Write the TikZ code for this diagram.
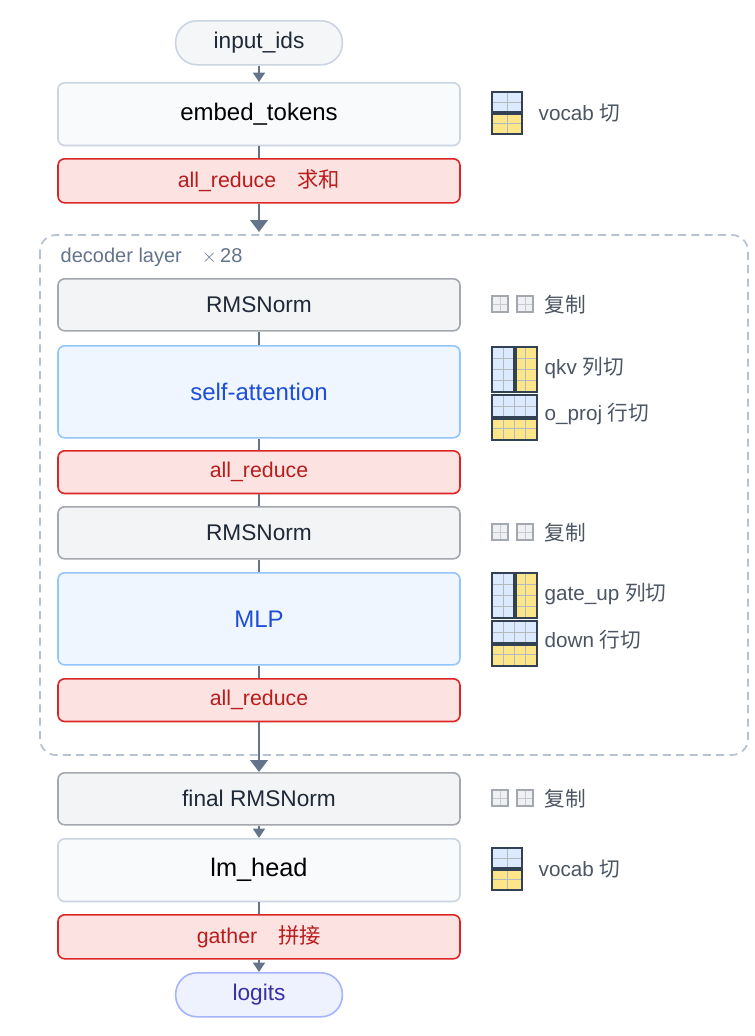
\documentclass[tikz,border=0pt]{standalone}
\usepackage{fontspec}
\setmainfont{Liberation Sans}
\newfontfamily\cjk{Noto Sans CJK SC}
\usetikzlibrary{arrows.meta,positioning}
\definecolor{redfill}{HTML}{FDE2E2}
\definecolor{redline}{HTML}{DC2626}
\definecolor{redtext}{HTML}{B91C1C}
\definecolor{greyfill}{HTML}{F3F4F6}
\definecolor{greyline}{HTML}{A3A7AE}
\definecolor{palefill}{HTML}{F8FAFC}
\definecolor{paleline}{HTML}{CBD5E1}
\definecolor{bluefill}{HTML}{EFF6FF}
\definecolor{blueline}{HTML}{93C5FD}
\definecolor{bluetext}{HTML}{1D4ED8}
\definecolor{pillfill}{HTML}{EEF2FF}
\definecolor{pillline}{HTML}{A5B4FC}
\definecolor{pilltext}{HTML}{3730A3}
\definecolor{conn}{HTML}{64748B}
\definecolor{dark}{HTML}{1F2937}
\definecolor{note}{HTML}{4B5563}
\definecolor{cellblue}{HTML}{DBEAFE}
\definecolor{cellyellow}{HTML}{FDE68A}
\definecolor{frame}{HTML}{334155}
\definecolor{cellgrey}{HTML}{EEF0F4}

\tikzset{
  box/.style={rectangle, rounded corners=5pt, line width=1.2pt, minimum width=301.5pt, anchor=north, font=\fontsize{17}{17}\selectfont},
  plain/.style={box, fill=palefill, draw=paleline, text=black},
  norm/.style={box, fill=greyfill, draw=greyline, text=dark},
  attn/.style={box, fill=bluefill, draw=blueline, text=bluetext, font=\fontsize{18}{18}\selectfont},
  comm/.style={box, fill=redfill, draw=redline, text=redtext, font=\fontsize{16}{16}\selectfont},
  pill/.style={rectangle, rounded corners=16pt, line width=1.2pt, minimum width=125pt, minimum height=33pt, anchor=north, font=\fontsize{17}{17}\selectfont},
  link/.style={draw=conn, line width=1pt},
  arr/.style={link, -{Triangle[length=7pt,width=9pt]}},
  bigarr/.style={draw=conn, line width=2.2pt, -{Triangle[length=9pt,width=13pt]}},
  lbl/.style={anchor=west, text=note, font=\fontsize{15.5}{15.5}\selectfont},
}
% sharding icons, placed by their top left corner
\newcommand\repicon[2]{%
  \foreach \d in {0,25} {
    \fill[cellgrey] ({#1+\d},#2) rectangle ++(16,16);
    \draw[greyline!60, line width=0.6pt] ({#1+\d+8},#2) -- ++(0,16) ({#1+\d},{#2+8}) -- ++(16,0);
    \draw[greyline, line width=1.3pt] ({#1+\d},#2) rectangle ++(16,16);
  }
}
\newcommand\colicon[2]{%
  \fill[cellblue] (#1,#2) rectangle ++(22.5,45);
  \fill[cellyellow] ({#1+22.5},#2) rectangle ++(22.5,45);
  \foreach \k in {1,2,3} {\draw[greyline!80, line width=0.6pt] (#1,{#2+\k*11.25}) -- ++(45,0);}
  \draw[greyline!80, line width=0.6pt] ({#1+11.25},#2) -- ++(0,45) ({#1+33.75},#2) -- ++(0,45);
  \draw[frame, line width=3pt] ({#1+22.5},#2) -- ++(0,45);
  \draw[frame, line width=1.5pt] (#1,#2) rectangle ++(45,45);
}
\newcommand\rowicon[2]{%
  \fill[cellblue] (#1,#2) rectangle ++(45,22.5);
  \fill[cellyellow] (#1,{#2+22.5}) rectangle ++(45,22.5);
  \foreach \k in {1,2,3} {\draw[greyline!80, line width=0.6pt] ({#1+\k*11.25},#2) -- ++(0,45);}
  \draw[greyline!80, line width=0.6pt] (#1,{#2+11.25}) -- ++(45,0) (#1,{#2+33.75}) -- ++(45,0);
  \draw[frame, line width=3pt] (#1,{#2+22.5}) -- ++(45,0);
  \draw[frame, line width=1.5pt] (#1,#2) rectangle ++(45,45);
}
\newcommand\vocabicon[2]{%
  \fill[cellblue] (#1,#2) rectangle ++(30,21);
  \fill[cellyellow] (#1,{#2+21}) rectangle ++(30,21);
  \draw[greyline!80, line width=0.6pt] ({#1+15},#2) -- ++(0,42) (#1,{#2+10.5}) -- ++(30,0) (#1,{#2+31.5}) -- ++(30,0);
  \draw[frame, line width=3pt] (#1,{#2+21}) -- ++(30,0);
  \draw[frame, line width=1.5pt] (#1,#2) rectangle ++(30,42);
}

\begin{document}
\begin{tikzpicture}[x=0.75pt, y=-0.75pt]
  \useasboundingbox[fill=white] (0,0) rectangle (754,1036);

  % decoder frame
  \draw[paleline!80!conn, line width=1.3pt, dash pattern=on 6pt off 4pt, rounded corners=12pt]
    (40,235) rectangle (748,755);
  \node[anchor=west, text=conn, font=\fontsize{15}{15}\selectfont] (layer) at (56,257) {decoder layer\quad$\times$\,28};

  % boxes
  \node[pill, fill=greyfill!60!palefill, draw=paleline, text=dark] (input) at (259,20) {input\_ids};
  \node[plain, minimum height=47pt, font=\fontsize{18}{18}\selectfont] (embed) at (259,82) {embed\_tokens};
  \node[comm, minimum height=33pt] (ar0) at (259,158) {all\_reduce\quad{\cjk 求和}};
  \node[norm, minimum height=39pt] (norm1) at (259,278) {RMSNorm};
  \node[attn, minimum height=69pt] (attn) at (259,345) {self-attention};
  \node[comm, minimum height=32pt] (ar1) at (259,450) {all\_reduce};
  \node[norm, minimum height=39pt] (norm2) at (259,506) {RMSNorm};
  \node[attn, minimum height=69pt] (mlp) at (259,572) {MLP};
  \node[comm, minimum height=32pt] (ar2) at (259,678) {all\_reduce};
  \node[norm, minimum height=39pt] (norm3) at (259,772) {final RMSNorm};
  \node[plain, minimum height=47pt, font=\fontsize{19}{19}\selectfont] (head) at (259,838) {lm\_head};
  \node[comm, minimum height=33pt] (gather) at (259,914) {gather\quad{\cjk 拼接}};
  \node[pill, fill=pillfill, draw=pillline, text=pilltext] (logits) at (259,972) {logits};

  % connectors
  \draw[arr] (input) -- (embed);
  \draw[link] (embed) -- (ar0);
  \draw[bigarr] (ar0) -- (259,232);
  \draw[link] (norm1) -- (attn);
  \draw[link] (attn) -- (ar1);
  \draw[link] (ar1) -- (norm2);
  \draw[link] (norm2) -- (mlp);
  \draw[link] (mlp) -- (ar2);
  \draw[bigarr] (ar2) -- (norm3);
  \draw[arr] (norm3) -- (head);
  \draw[link] (head) -- (gather);
  \draw[arr] (gather) -- (logits);

  % sharding notes
  \vocabicon{492}{92}
  \node[lbl] (v1) at (534,113) {vocab {\cjk 切}};
  \repicon{492}{296}
  \node[lbl] (r1) at (540,305) {\cjk 复制};
  \colicon{492}{347}
  \node[lbl] (qkv) at (540,368) {qkv {\cjk 列切}};
  \rowicon{492}{395}
  \node[lbl] (oproj) at (540,414) {o\_proj {\cjk 行切}};
  \repicon{492}{524}
  \node[lbl] (r2) at (540,533) {\cjk 复制};
  \colicon{492}{573}
  \node[lbl] (gate) at (540,594) {gate\_up {\cjk 列切}};
  \rowicon{492}{621}
  \node[lbl] (down) at (540,640) {down {\cjk 行切}};
  \repicon{492}{790}
  \node[lbl] (r3) at (540,799) {\cjk 复制};
  \vocabicon{492}{848}
  \node[lbl] (v2) at (534,869) {vocab {\cjk 切}};
\end{tikzpicture}
\end{document}
